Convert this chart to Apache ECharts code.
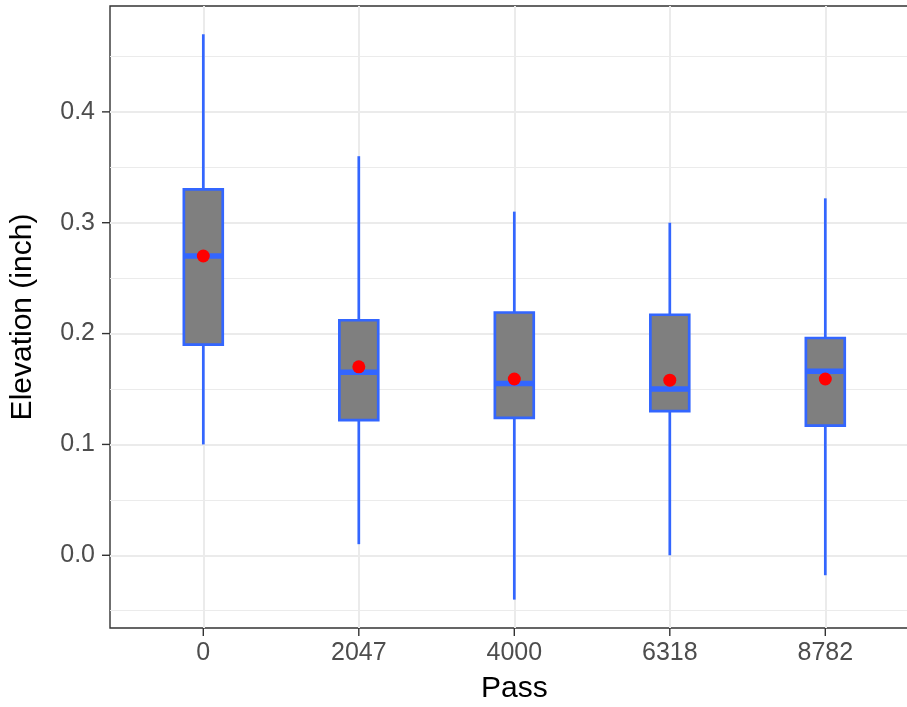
<!DOCTYPE html>
<html>
<head>
<meta charset="utf-8">
<script src="https://cdn.jsdelivr.net/npm/echarts@6/dist/echarts.min.js"></script>
<style>
html,body{margin:0;padding:0;background:#fff;}
#chart{width:907px;height:707px;}
</style>
</head>
<body>
<div id="chart"></div>
<script>
// Categories (Pass)
const passes = ['0', '2047', '4000', '6318', '8782'];
// Box statistics (Elevation, inch)
const whiskerLow  = [0.100, 0.010, -0.040, 0.000, -0.018];
const q1          = [0.190, 0.122,  0.124, 0.130,  0.117];
const median      = [0.270, 0.165,  0.155, 0.150,  0.166];
const q3          = [0.330, 0.212,  0.219, 0.217,  0.196];
const whiskerHigh = [0.470, 0.360,  0.310, 0.300,  0.322];
const means       = [0.270, 0.170,  0.159, 0.158,  0.159];
// Tick values
const yMajorTicks = [0.0, 0.1, 0.2, 0.3, 0.4];
const yMinorTicks = [-0.05, 0.05, 0.15, 0.25, 0.35, 0.45];
const xTicks = passes.map((p, i) => i);

const X_MIN = -0.6, X_MAX = 4.6;
const Y_MIN = -0.0656, Y_MAX = 0.4955;
const BLUE = '#3366FF';
const TICK_COLOR = '#333333';

const boxData = passes.map((p, i) => [i, whiskerLow[i], q1[i], median[i], q3[i], whiskerHigh[i]]);
const meanData = passes.map((p, i) => [i, means[i]]);
const xTickData = xTicks.map(v => [v, Y_MIN]);
const yTickData = yMajorTicks.map(v => [X_MIN, v]);

const chart = echarts.init(document.getElementById('chart'), null, {renderer: 'canvas'});

function renderBox(params, api) {
  const x = api.value(0);
  const lo = api.coord([x, api.value(1)]);
  const b1 = api.coord([x, api.value(2)]);
  const md = api.coord([x, api.value(3)]);
  const b3 = api.coord([x, api.value(4)]);
  const hi = api.coord([x, api.value(5)]);
  const w = api.size([0.25, 0])[0];
  const cx = lo[0];
  const lineStyle = {stroke: BLUE, lineWidth: 2.7, fill: null};
  return {
    type: 'group',
    children: [
      {type: 'line', shape: {x1: cx, y1: b3[1], x2: cx, y2: hi[1]}, style: lineStyle},
      {type: 'line', shape: {x1: cx, y1: b1[1], x2: cx, y2: lo[1]}, style: lineStyle},
      {type: 'rect', shape: {x: cx - w / 2, y: b3[1], width: w, height: b1[1] - b3[1]},
        style: {fill: '#7F7F7F', stroke: BLUE, lineWidth: 2.7}},
      {type: 'line', shape: {x1: cx - w / 2, y1: md[1], x2: cx + w / 2, y2: md[1]},
        style: {stroke: BLUE, lineWidth: 5.5}}
    ]
  };
}

// outward tick marks on the panel border, positioned through the axes' scales
function renderXTick(params, api) {
  const p = api.coord([api.value(0), api.value(1)]);
  return {type: 'line', shape: {x1: p[0], y1: p[1], x2: p[0], y2: p[1] + 8},
    style: {stroke: TICK_COLOR, lineWidth: 1.4}};
}
function renderYTick(params, api) {
  const p = api.coord([api.value(0), api.value(1)]);
  return {type: 'line', shape: {x1: p[0] - 8, y1: p[1], x2: p[0], y2: p[1]},
    style: {stroke: TICK_COLOR, lineWidth: 1.4}};
}

const option = {
  animation: false,
  backgroundColor: '#ffffff',
  grid: {
    left: 110, top: 6, width: 808.6, height: 622,
    show: true, borderColor: '#333333', borderWidth: 1.4, backgroundColor: 'transparent',
    containLabel: false, outerBoundsMode: 'none'
  },
  xAxis: {
    type: 'value', min: X_MIN, max: X_MAX, position: 'bottom',
    name: 'Pass', nameLocation: 'middle', nameGap: 46,
    nameTextStyle: {color: '#000000', fontSize: 30, fontFamily: 'Liberation Sans'},
    axisLine: {show: false, onZero: false},
    axisTick: {show: false, customValues: xTicks},
    axisLabel: {
      customValues: xTicks, margin: 13, color: '#4D4D4D', fontSize: 25, fontFamily: 'Liberation Sans',
      formatter: v => passes[Math.round(v)]
    },
    splitLine: {show: true, lineStyle: {color: '#EBEBEB', width: 2}}
  },
  yAxis: [{
    type: 'value', min: Y_MIN, max: Y_MAX, position: 'left',
    name: 'Elevation (inch)', nameLocation: 'middle', nameGap: 72,
    nameTextStyle: {color: '#000000', fontSize: 30, fontFamily: 'Liberation Sans'},
    axisLine: {show: false, onZero: false},
    axisTick: {show: false, customValues: yMajorTicks},
    axisLabel: {
      customValues: yMajorTicks, margin: 15, color: '#4D4D4D', fontSize: 25, fontFamily: 'Liberation Sans',
      formatter: v => v.toFixed(1)
    },
    splitLine: {show: true, lineStyle: {color: '#EBEBEB', width: 2}}
  }, {
    type: 'value', min: Y_MIN, max: Y_MAX, position: 'left',
    axisLine: {show: false, onZero: false},
    axisTick: {show: false, customValues: yMinorTicks},
    axisLabel: {show: false, customValues: yMinorTicks},
    splitLine: {show: true, lineStyle: {color: '#EBEBEB', width: 1}}
  }],
  series: [{
    type: 'custom',
    renderItem: renderBox,
    encode: {x: 0, y: [1, 2, 3, 4, 5]},
    data: boxData,
    clip: false,
    silent: true,
    z: 3
  }, {
    type: 'scatter',
    data: meanData,
    symbol: 'circle',
    symbolSize: 13,
    itemStyle: {color: '#FF0000', opacity: 1},
    silent: true,
    z: 4
  }, {
    type: 'custom',
    renderItem: renderXTick,
    encode: {x: 0, y: 1},
    data: xTickData,
    clip: false,
    silent: true,
    z: 5
  }, {
    type: 'custom',
    renderItem: renderYTick,
    encode: {x: 0, y: 1},
    data: yTickData,
    clip: false,
    silent: true,
    z: 5
  }]
};
chart.setOption(option);
</script>
</body>
</html>
